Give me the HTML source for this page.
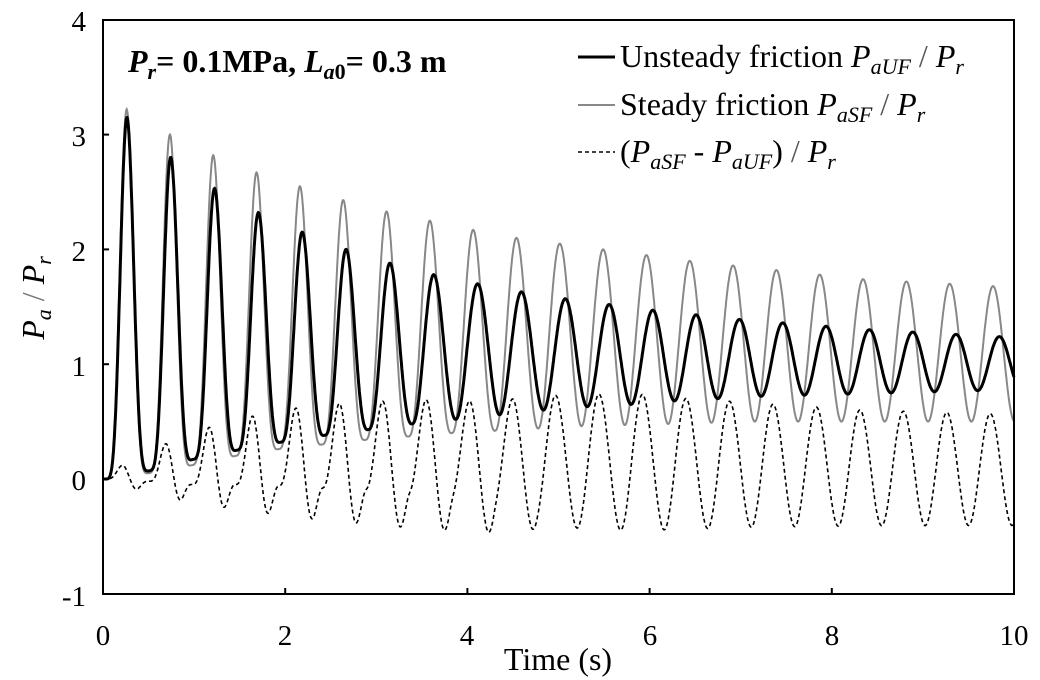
<!DOCTYPE html>
<html><head><meta charset="utf-8"><style>
body{margin:0;background:#fff;}
svg{display:block;font-family:"Liberation Serif",serif;}
</style></head><body>
<svg id="s" width="1040" height="680" viewBox="0 0 1040 680" xmlns="http://www.w3.org/2000/svg">
<rect width="1040" height="680" fill="#fff"/>
<g id="curves"></g>
<rect x="103" y="20" width="911" height="574" fill="none" stroke="#000" stroke-width="2"/>
<g stroke="#000" stroke-width="2" id="ticks"></g>
<g font-size="29" fill="#000">
<text x="86" y="31" text-anchor="end">4</text>
<text x="86" y="146" text-anchor="end">3</text>
<text x="86" y="261" text-anchor="end">2</text>
<text x="86" y="376" text-anchor="end">1</text>
<text x="86" y="490" text-anchor="end">0</text>
<text x="86" y="606" text-anchor="end">-1</text>
<text x="103" y="645" text-anchor="middle">0</text>
<text x="285" y="645" text-anchor="middle">2</text>
<text x="467" y="645" text-anchor="middle">4</text>
<text x="650" y="645" text-anchor="middle">6</text>
<text x="832" y="645" text-anchor="middle">8</text>
<text x="1014" y="645" text-anchor="middle">10</text>
</g>
<g font-size="32" fill="#000">
<text x="558" y="670" text-anchor="middle">Time (s)</text>
<text transform="translate(44,298) rotate(-90)" text-anchor="middle"><tspan font-style="italic">P</tspan><tspan font-style="italic" font-size="22" dy="7">a</tspan><tspan dy="-7" fill="#777"> / </tspan><tspan font-style="italic">P</tspan><tspan font-style="italic" font-size="22" dy="7">r</tspan></text>
<text x="128" y="72" font-weight="bold"><tspan font-style="italic">P</tspan><tspan font-style="italic" font-size="22" dy="7">r</tspan><tspan dy="-7">= 0.1MPa, </tspan><tspan font-style="italic">L</tspan><tspan font-style="italic" font-size="22" dy="7">a</tspan><tspan font-size="22">0</tspan><tspan dy="-7">= 0.3 m</tspan></text>
<line x1="578" y1="57" x2="615" y2="57" stroke="#000" stroke-width="3"/>
<line x1="578" y1="105" x2="615" y2="105" stroke="#888" stroke-width="2"/>
<line x1="578" y1="152" x2="615" y2="152" stroke="#000" stroke-width="1.6" stroke-dasharray="4,3"/>
<text x="620" y="67">Unsteady friction <tspan font-style="italic">P</tspan><tspan font-style="italic" font-size="22" dy="7">aUF</tspan><tspan dy="-7" fill="#555"> / </tspan><tspan font-style="italic">P</tspan><tspan font-style="italic" font-size="22" dy="7">r</tspan></text>
<text x="620" y="115">Steady friction <tspan font-style="italic">P</tspan><tspan font-style="italic" font-size="22" dy="7">aSF</tspan><tspan dy="-7" fill="#555"> / </tspan><tspan font-style="italic">P</tspan><tspan font-style="italic" font-size="22" dy="7">r</tspan></text>
<text x="620" y="162">(<tspan font-style="italic">P</tspan><tspan font-style="italic" font-size="22" dy="7">aSF</tspan><tspan dy="-7"> - </tspan><tspan font-style="italic">P</tspan><tspan font-style="italic" font-size="22" dy="7">aUF</tspan><tspan dy="-7">)</tspan><tspan fill="#555"> / </tspan><tspan font-style="italic">P</tspan><tspan font-style="italic" font-size="22" dy="7">r</tspan></text>
</g>
</svg>
<script>
(function(){
function X(t){return 103+t*91.1;}
function Y(v){return 479-v*114.8;}
var tk=document.getElementById("ticks"),h="";
for(var i=1;i<5;i++){h+='<line x1="'+X(2*i)+'" y1="594" x2="'+X(2*i)+'" y2="588"/>';}
for(var v=0;v<4;v++){h+='<line x1="103" y1="'+Y(v)+'" x2="109" y2="'+Y(v)+'"/>';}
tk.innerHTML=h;
var T=0.4755,t0=0.26;
var sMax=[3.22,3.0,2.82,2.67,2.55,2.43,2.33,2.25,2.17,2.1,2.05,2.0,1.95,1.9,1.86,1.82,1.78,1.74,1.72,1.7,1.68,1.66];
var sMin=[0.05,0.12,0.2,0.26,0.3,0.34,0.37,0.4,0.42,0.44,0.46,0.47,0.48,0.49,0.5,0.5,0.5,0.5,0.5,0.5,0.5,0.5];
var uMax=[3.15,2.8,2.53,2.32,2.15,2.0,1.88,1.78,1.7,1.63,1.57,1.52,1.47,1.43,1.39,1.36,1.33,1.3,1.28,1.26,1.24,1.22];
var uMin=[0.07,0.17,0.25,0.32,0.38,0.43,0.48,0.52,0.56,0.6,0.63,0.65,0.68,0.7,0.72,0.73,0.74,0.75,0.76,0.77,0.78,0.78];
function interp(a,k){if(k<0)k=0;var i=Math.floor(k);if(i>=a.length-1)return a[a.length-1];var f=k-i;return a[i]*(1-f)+a[i+1]*f;}
function val(t,mx,mn,lag,pw){
 var c=(t-t0-lag)/T;
 var s=(1+Math.cos(2*Math.PI*c))/2;
 s=Math.pow(s,pw(c));
 var M=interp(mx,c<0?0:c);
 var m=interp(mn,c-0.5);
 if(t<t0+lag){m=0;}
 return m+(M-m)*s;
}
var ps="",pu="",pd="";
for(var n=0;n<=2000;n++){
 var t=n*10/2000;
 var lag=Math.min(0.07,t*0.012);
 var a=val(t,sMax,sMin,0,function(k){return Math.max(1,2.2-k*0.12);});
 var b=val(t,uMax,uMin,lag,function(k){return Math.max(1,2.2-k*0.15);});
 if(t<0.02){a=0;b=0;}
 var d=a-b;
 var cmd=n?"L":"M";
 ps+=cmd+X(t).toFixed(1)+","+Y(a).toFixed(1);
 pu+=cmd+X(t).toFixed(1)+","+Y(b).toFixed(1);
 pd+=cmd+X(t).toFixed(1)+","+Y(d).toFixed(1);
}
document.getElementById("curves").innerHTML='<path d="'+ps+'" fill="none" stroke="#888" stroke-width="2"/>'+
'<path d="'+pu+'" fill="none" stroke="#000" stroke-width="3"/>'+
'<path d="'+pd+'" fill="none" stroke="#000" stroke-width="1.6" stroke-dasharray="4,3"/>';
})();
</script>
</body></html>
